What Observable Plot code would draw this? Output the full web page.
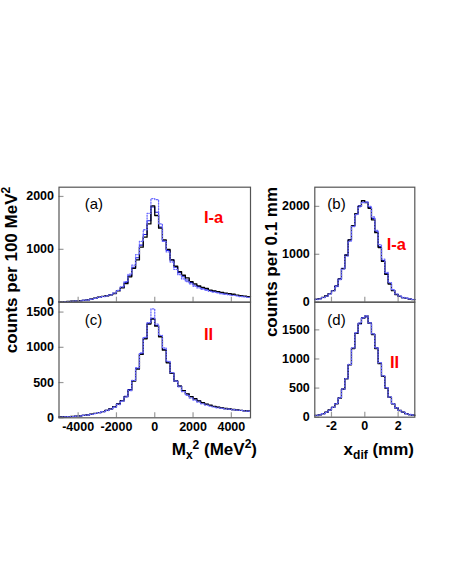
<!DOCTYPE html>
<html><head><meta charset="utf-8">
<script src="https://cdn.jsdelivr.net/npm/d3@7"></script>
<script src="https://cdn.jsdelivr.net/npm/@observablehq/plot@0.6"></script>
<style>
body{margin:0;background:#fff;}
#chart{position:relative;width:452px;height:585px;font-family:"Liberation Sans",Arial,Helvetica,sans-serif;}
#chart svg{position:absolute;left:0;top:0;overflow:visible;}
</style></head><body><div id="chart"></div>
<script>
// ---- data ----
const mxStart = -5000, mxBin = 200;   // M_x^2 bins (MeV^2)
const xdStart = -3, xdBin = 0.2;      // x_dif bins (mm)
const mxTicks = [-4000, -2000, 0, 2000, 4000];
const xdTicks = [-2, 0, 2];
const yTicksA = [0, 1000, 2000];
const yTicksC = [0, 500, 1000, 1500];
const yTicksB = [0, 1000, 2000];
const yTicksD = [0, 500, 1000, 1500];

// panel (a) I-a, M_x^2
const aBlack = [10,12,15,18,22,28,36,45,60,78,95,110,122,140,165,215,270,350,480,640,800,1040,1230,1480,1820,
                1640,1400,1180,1000,800,680,580,510,460,390,345,310,280,260,230,215,200,185,170,160,150,135,125,115,105];
const aBlue  = [10,12,14,18,23,29,36,46,58,75,92,108,122,142,170,220,280,370,500,660,840,1080,1280,1540,1800,
                1700,1420,1160,980,800,660,560,480,420,370,325,295,265,245,222,205,190,175,162,150,140,128,118,108,100];
const aDot   = [8,10,12,15,20,25,33,42,55,72,90,105,120,140,170,225,290,390,530,700,900,1150,1370,1680,1960,
                1940,1480,1150,950,760,620,520,440,390,345,300,270,245,225,205,190,175,160,150,140,128,118,108,100,92];
// panel (c) II, M_x^2
const cBlack = [12,14,16,20,24,28,34,42,52,62,74,88,104,125,155,195,240,300,390,520,690,900,1120,1330,1400,
                1300,1150,960,780,630,520,450,385,340,300,270,240,215,195,178,162,150,140,132,125,118,112,105,100,95];
const cBlue  = [11,13,16,19,23,28,34,41,51,62,75,90,106,128,158,198,245,305,400,530,700,910,1130,1340,1410,
                1310,1160,970,790,635,525,450,385,338,298,266,238,212,192,175,160,148,138,130,123,116,110,104,99,94];
const cDot   = [10,12,15,18,22,27,33,40,50,60,72,86,102,122,150,188,235,295,385,530,710,920,1140,1350,1545,
                1330,1170,990,800,640,520,440,370,320,280,250,222,198,180,165,152,142,134,128,122,116,110,104,98,92];
// panel (b) I-a, x_dif
const bBlack = [60,75,100,135,180,240,330,480,700,980,1300,1600,1850,2000,2120,2080,1960,1720,1450,1140,850,580,380,240,160,120,95,80,65,55];
const bBlue  = [58,74,98,132,178,245,340,490,710,990,1300,1590,1840,2010,2090,2090,1980,1750,1470,1160,870,600,395,250,165,122,96,80,66,55];
const bDot   = [55,70,95,128,172,235,325,470,690,960,1270,1580,1830,1990,2080,2090,2000,1780,1500,1200,900,620,410,260,170,125,98,82,68,57];
// panel (d) II, x_dif
const dBlack = [30,40,60,85,125,170,230,330,480,660,900,1180,1440,1610,1700,1740,1610,1420,1180,920,700,500,340,230,160,115,85,60,45,35];
const dBlue  = [30,41,60,86,124,172,235,335,485,665,905,1185,1445,1600,1710,1720,1620,1430,1190,930,705,505,345,232,160,116,86,61,45,35];
const dDot   = [29,40,59,84,122,170,232,332,482,662,905,1190,1450,1620,1705,1745,1615,1430,1190,935,710,508,345,232,162,117,86,61,46,36];

// ---- drawing ----
function steps(start, bin, vals) {
  const pts = vals.map((v, i) => ({x: start + i * bin, y: v}));
  pts.push({x: start + vals.length * bin, y: vals[vals.length - 1]});
  return pts;
}
const root = document.getElementById("chart");
const W = 452, Hh = 585;
const fmt = d => String(d);

function panel(cfg) {
  const [L, R, T, B] = cfg.frame;
  const fw = R - L, fh = B - T;
  const marks = [
    Plot.line(steps(cfg.start, cfg.bin, cfg.blue), {x: "x", y: "y", curve: "step-after", stroke: "#1a1ae0", strokeWidth: 1.1}),
    Plot.line(steps(cfg.start, cfg.bin, cfg.black), {x: "x", y: "y", curve: "step-after", stroke: "#000", strokeWidth: 1.3}),
    Plot.line(steps(cfg.start, cfg.bin, cfg.dot), {x: "x", y: "y", curve: "step-after", stroke: "#6a6aff", strokeWidth: 1.3, strokeDasharray: "1.2,1.6"}),
    Plot.tickX(cfg.xTicks, {x: d => d, stroke: "#9a9a9a", strokeWidth: 1.2, insetTop: fh - 5}),
    Plot.tickY(cfg.yTicks, {y: d => d, stroke: "#9a9a9a", strokeWidth: 1.2, insetRight: fw - 5}),
    Plot.frame({stroke: "#555", strokeWidth: 1.2}),
    Plot.axisY(cfg.yTicks, {tickSize: 0, tickPadding: 5, tickFormat: fmt, label: null}),
    Plot.axisX(cfg.showX ? cfg.xTicks : [], {tickSize: 0, tickPadding: 4, tickFormat: fmt, label: null})
  ];
  const svg = Plot.plot({
    width: W, height: Hh,
    marginLeft: L, marginRight: W - R, marginTop: T, marginBottom: Hh - B,
    x: {domain: cfg.xDomain, label: null},
    y: {domain: cfg.yDomain, label: null},
    style: {fontFamily: "'Liberation Sans', Arial, sans-serif", fontSize: "12.5px", fontWeight: "bold", color: "#000", background: "transparent", overflow: "visible"},
    marks
  });
  root.appendChild(svg);
}

panel({frame: [58.5, 250, 186.7, 301.7], start: mxStart, bin: mxBin, black: aBlack, blue: aBlue, dot: aDot,
       xDomain: [-5000, 5000], yDomain: [0, 2175], xTicks: mxTicks, yTicks: yTicksA, showX: false});
panel({frame: [58.5, 250, 301.7, 417.3], start: mxStart, bin: mxBin, black: cBlack, blue: cBlue, dot: cDot,
       xDomain: [-5000, 5000], yDomain: [0, 1640], xTicks: mxTicks, yTicks: yTicksC, showX: true});
panel({frame: [314.3, 414.3, 186.7, 301.7], start: xdStart, bin: xdBin, black: bBlack, blue: bBlue, dot: bDot,
       xDomain: [-3, 3], yDomain: [0, 2400], xTicks: xdTicks, yTicks: yTicksB, showX: false});
panel({frame: [314.3, 414.3, 301.7, 416.7], start: xdStart, bin: xdBin, black: dBlack, blue: dBlue, dot: dDot,
       xDomain: [-3, 3], yDomain: [0, 1975], xTicks: xdTicks, yTicks: yTicksD, showX: true});

// titles and annotations
const ov = d3.select(root).append("svg").attr("width", W).attr("height", Hh)
  .style("font-family", "'Liberation Sans', Arial, sans-serif");
function ylab(x, y, parts) {
  const t = ov.append("text").attr("transform", `translate(${x},${y}) rotate(-90)`)
    .attr("text-anchor", "middle").attr("font-size", 17).attr("font-weight", "bold");
  parts.forEach(p => { const s = t.append("tspan").text(p.t); if (p.dy) s.attr("dy", p.dy); if (p.fs) s.attr("font-size", p.fs); });
}
ylab(17, 270, [{t: "counts per 100 MeV"}, {t: "2", dy: -7, fs: 12}]);
ylab(277, 262, [{t: "counts per 0.1 mm"}]);
function xlab(x, y, parts) {
  const t = ov.append("text").attr("x", x).attr("y", y)
    .attr("text-anchor", "end").attr("font-size", 17).attr("font-weight", "bold");
  parts.forEach(p => { const s = t.append("tspan").text(p.t); if (p.dy) s.attr("dy", p.dy); if (p.fs) s.attr("font-size", p.fs); });
}
xlab(257, 455, [{t: "M"}, {t: "x", dy: 4, fs: 12}, {t: "2", dy: -10, fs: 12}, {t: " (MeV", dy: 6}, {t: "2", dy: -7, fs: 12}, {t: ")", dy: 7}]);
xlab(414, 455, [{t: "x"}, {t: "dif", dy: 4, fs: 12}, {t: " (mm)", dy: -4}]);

const tags = [
  {x: 84.7, y: 208.5, t: "(a)"}, {x: 84.7, y: 325, t: "(c)"},
  {x: 327.3, y: 208.5, t: "(b)"}, {x: 327.3, y: 325, t: "(d)"}
];
tags.forEach(d => ov.append("text").attr("x", d.x).attr("y", d.y).attr("font-size", 15).text(d.t));
const names = [
  {x: 204, y: 222.5, t: "I-a"}, {x: 204, y: 340, t: "II"},
  {x: 386.7, y: 249.5, t: "I-a"}, {x: 390, y: 367.5, t: "II"}
];
names.forEach(d => ov.append("text").attr("x", d.x).attr("y", d.y).attr("font-size", 16.5)
  .attr("font-weight", "bold").attr("fill", "#ff0000").text(d.t));
</script></body></html>
